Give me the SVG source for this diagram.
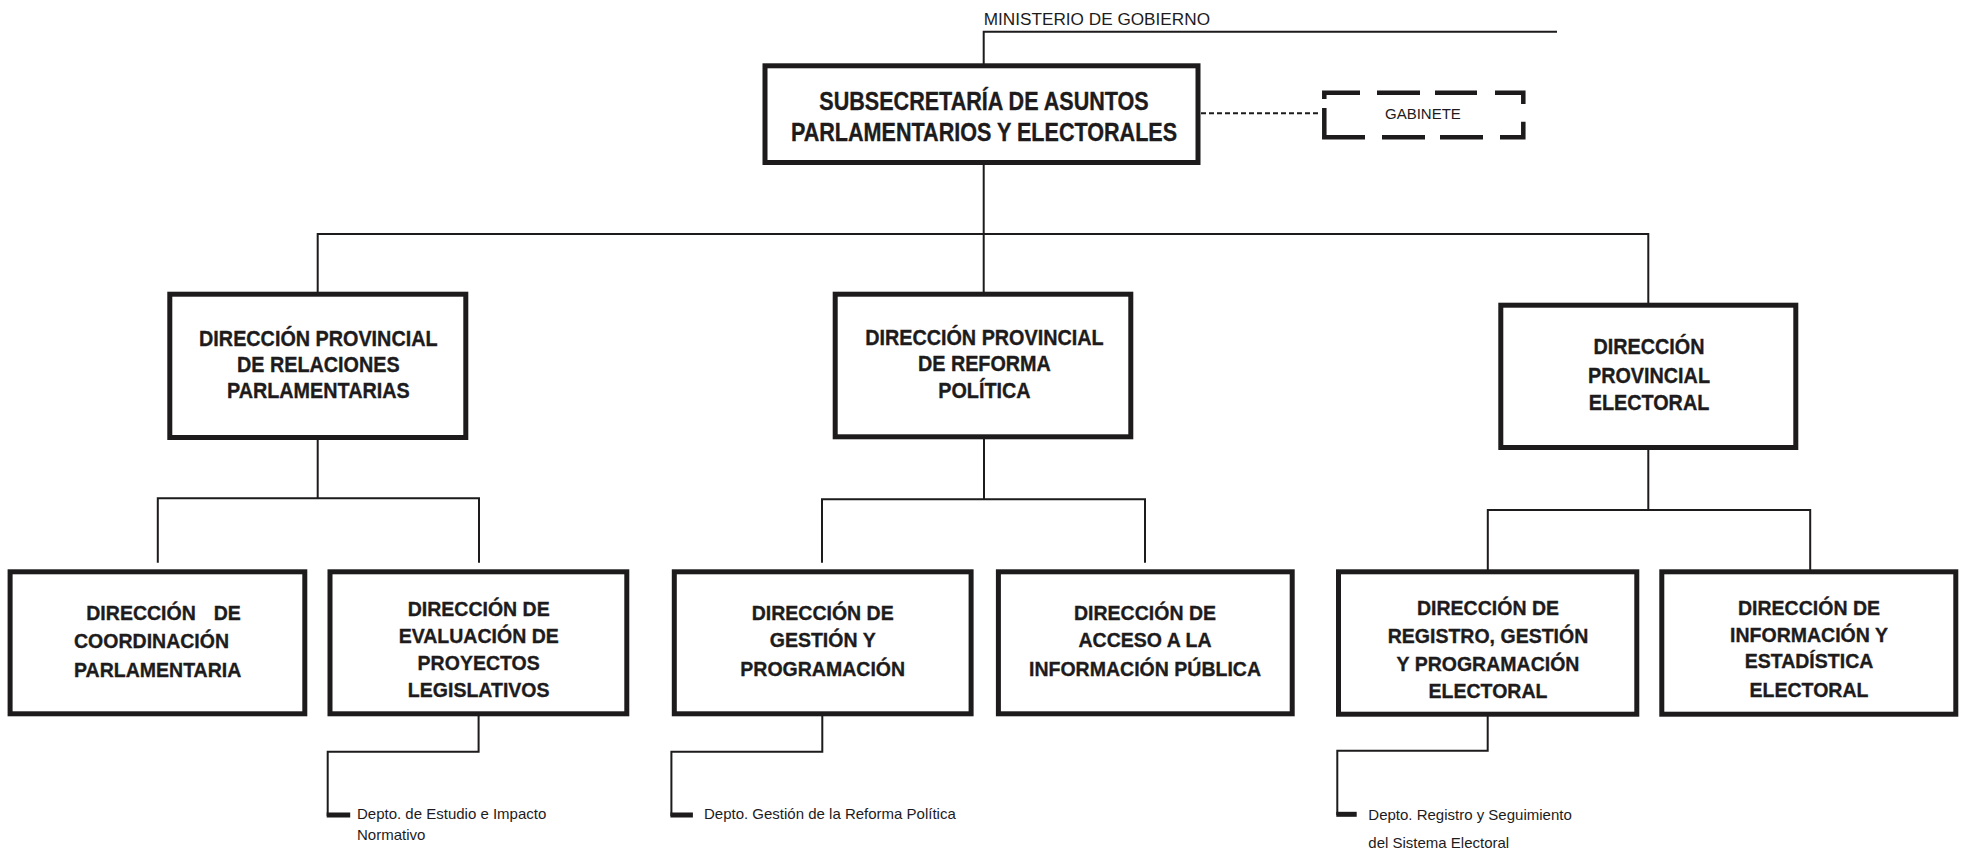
<svg xmlns="http://www.w3.org/2000/svg" width="1965" height="855" viewBox="0 0 1965 855">
  <style>
    .box { fill: #ffffff; stroke: #1d1b1c; stroke-width: 5; }
    .ln { fill: none; stroke: #1d1b1c; stroke-width: 2; }
    .dash { fill: none; stroke: #1d1b1c; stroke-width: 2; stroke-dasharray: 5 3; }
    .gab { fill: none; stroke: #1d1b1c; stroke-width: 4.5; }
    .bar { fill: #1d1b1c; }
    .t { font-family: "Liberation Sans", Arial, sans-serif; fill: #1d1b1c; }
    .b { font-weight: bold; stroke: #1d1b1c; stroke-width: 0.35; }
    .t26 { font-size: 26px; }
    .t22 { font-size: 22px; }
    .t21 { font-size: 21px; }
    .t17 { font-size: 17.2px; }
    .t15 { font-size: 15px; }
    .mid { text-anchor: middle; }
  </style>
  <rect width="1965" height="855" fill="#ffffff"/>

  <!-- connectors -->
  <g id="connectors">
    <path class="ln" d="M983.7 64 V31.7 H1557"/>
    <path class="ln" d="M983.7 165 V303"/>
    <path class="ln" d="M317.7 303 V234 H1648.3 V305"/>
    <path class="dash" d="M1201 113.3 H1320"/>
    <!-- under Relaciones Parlamentarias -->
    <path class="ln" d="M317.7 440 V498.3"/>
    <path class="ln" d="M157.8 562.7 V498.3 H479 V562.7"/>
    <!-- under Reforma Política -->
    <path class="ln" d="M984 439 V499.3"/>
    <path class="ln" d="M822 562.7 V499.3 H1145 V562.7"/>
    <!-- under Electoral -->
    <path class="ln" d="M1648.3 450 V510"/>
    <path class="ln" d="M1487.8 572 V510 H1810.2 V572"/>
    <!-- departments -->
    <path class="ln" d="M478.6 706.7 V751.7 H327.7 V816"/>
    <rect class="bar" x="326.7" y="812.5" width="23.5" height="5"/>
    <path class="ln" d="M822.3 707.7 V751.7 H671.4 V816"/>
    <rect class="bar" x="670.4" y="812.5" width="22.5" height="5"/>
    <path class="ln" d="M1487.7 706.7 V750.7 H1337.3 V815"/>
    <rect class="bar" x="1336.3" y="811.8" width="20.4" height="5"/>
  </g>

  <!-- ministry label -->
  <g id="ministerio">
    <text class="t t17" x="983.7" y="25">MINISTERIO DE GOBIERNO</text>
  </g>

  <!-- top node -->
  <g id="subsecretaria">
    <rect class="box" x="765" y="65.8" width="433" height="96.7"/>
    <g transform="translate(984 0) scale(0.83 1)">
      <text class="t b t26 mid" x="0" y="110">SUBSECRETARÍA DE ASUNTOS</text>
      <text class="t b t26 mid" x="0" y="141">PARLAMENTARIOS Y ELECTORALES</text>
    </g>
  </g>

  <!-- cabinet -->
  <g id="gabinete">
    <path class="gab" d="M1324.3 99 V92.7 H1360 M1377 92.7 H1420 M1435 92.7 H1477 M1495 92.7 H1523.3 V104
                         M1324.3 108 V137.3 H1365 M1382 137.3 H1425 M1440 137.3 H1483 M1500 137.3 H1523.3 V121.7"/>
    <text class="t t15" x="1385" y="119.3">GABINETE</text>
  </g>

  <!-- provincial directorates -->
  <g id="dp-relaciones">
    <rect class="box" x="169.8" y="294.2" width="296" height="143.3"/>
    <g transform="translate(318.3 0) scale(0.9 1)">
      <text class="t b t22 mid" x="0" y="346">DIRECCIÓN PROVINCIAL</text>
      <text class="t b t22 mid" x="0" y="372">DE RELACIONES</text>
      <text class="t b t22 mid" x="0" y="398.3">PARLAMENTARIAS</text>
    </g>
  </g>

  <g id="dp-reforma">
    <rect class="box" x="835.2" y="294.2" width="295.6" height="142.6"/>
    <g transform="translate(984.4 0) scale(0.9 1)">
      <text class="t b t22 mid" x="0" y="345">DIRECCIÓN PROVINCIAL</text>
      <text class="t b t22 mid" x="0" y="371.5">DE REFORMA</text>
      <text class="t b t22 mid" x="0" y="398">POLÍTICA</text>
    </g>
  </g>

  <g id="dp-electoral">
    <rect class="box" x="1500.8" y="305.2" width="295" height="142.3"/>
    <g transform="translate(1649 0) scale(0.9 1)">
      <text class="t b t22 mid" x="0" y="354.3">DIRECCIÓN</text>
      <text class="t b t22 mid" x="0" y="382.7">PROVINCIAL</text>
      <text class="t b t22 mid" x="0" y="410">ELECTORAL</text>
    </g>
  </g>

  <!-- directorates -->
  <g id="d-coordinacion">
    <rect class="box" x="10.1" y="571.8" width="294.7" height="142"/>
    <g transform="translate(74 0) scale(0.93 1)">
      <text class="t b t21" x="13.2" y="620">DIRECCIÓN <tspan x="179.4" style="text-anchor:end">DE</tspan></text>
      <text class="t b t21" x="0" y="648.3">COORDINACIÓN</text>
      <text class="t b t21" x="0" y="676.7">PARLAMENTARIA</text>
    </g>
  </g>

  <g id="d-evaluacion">
    <rect class="box" x="330" y="571.8" width="296.8" height="142"/>
    <g transform="translate(478.7 0) scale(0.93 1)">
      <text class="t b t21 mid" x="0" y="616.5">DIRECCIÓN DE</text>
      <text class="t b t21 mid" x="0" y="643.3">EVALUACIÓN DE</text>
      <text class="t b t21 mid" x="0" y="670.5">PROYECTOS</text>
      <text class="t b t21 mid" x="0" y="697.3">LEGISLATIVOS</text>
    </g>
  </g>

  <g id="d-gestion">
    <rect class="box" x="674.3" y="571.8" width="296.8" height="142"/>
    <g transform="translate(822.7 0) scale(0.93 1)">
      <text class="t b t21 mid" x="0" y="620">DIRECCIÓN DE</text>
      <text class="t b t21 mid" x="0" y="647.5">GESTIÓN Y</text>
      <text class="t b t21 mid" x="0" y="676">PROGRAMACIÓN</text>
    </g>
  </g>

  <g id="d-acceso">
    <rect class="box" x="998.4" y="571.8" width="293.8" height="142"/>
    <g transform="translate(1145 0) scale(0.93 1)">
      <text class="t b t21 mid" x="0" y="620">DIRECCIÓN DE</text>
      <text class="t b t21 mid" x="0" y="647.5">ACCESO A LA</text>
      <text class="t b t21 mid" x="0" y="676">INFORMACIÓN PÚBLICA</text>
    </g>
  </g>

  <g id="d-registro">
    <rect class="box" x="1338.5" y="571.8" width="298.3" height="142.4"/>
    <g transform="translate(1488 0) scale(0.93 1)">
      <text class="t b t21 mid" x="0" y="615.5">DIRECCIÓN DE</text>
      <text class="t b t21 mid" x="0" y="643.3">REGISTRO, GESTIÓN</text>
      <text class="t b t21 mid" x="0" y="671">Y PROGRAMACIÓN</text>
      <text class="t b t21 mid" x="0" y="698.3">ELECTORAL</text>
    </g>
  </g>

  <g id="d-estadistica">
    <rect class="box" x="1661.8" y="571.8" width="294" height="142.4"/>
    <g transform="translate(1809 0) scale(0.93 1)">
      <text class="t b t21 mid" x="0" y="615.5">DIRECCIÓN DE</text>
      <text class="t b t21 mid" x="0" y="642">INFORMACIÓN Y</text>
      <text class="t b t21 mid" x="0" y="668.5">ESTADÍSTICA</text>
      <text class="t b t21 mid" x="0" y="696.7">ELECTORAL</text>
    </g>
  </g>

  <!-- departments -->
  <g id="depto-estudio">
    <text class="t t15" x="357" y="819.3">Depto. de Estudio e Impacto</text>
    <text class="t t15" x="357" y="840">Normativo</text>
  </g>

  <g id="depto-reforma">
    <text class="t t15" x="704" y="819">Depto. Gestión de la Reforma Política</text>
  </g>

  <g id="depto-registro">
    <text class="t t15" x="1368.3" y="820">Depto. Registro y Seguimiento</text>
    <text class="t t15" x="1368.3" y="848.3">del Sistema Electoral</text>
  </g>
</svg>
